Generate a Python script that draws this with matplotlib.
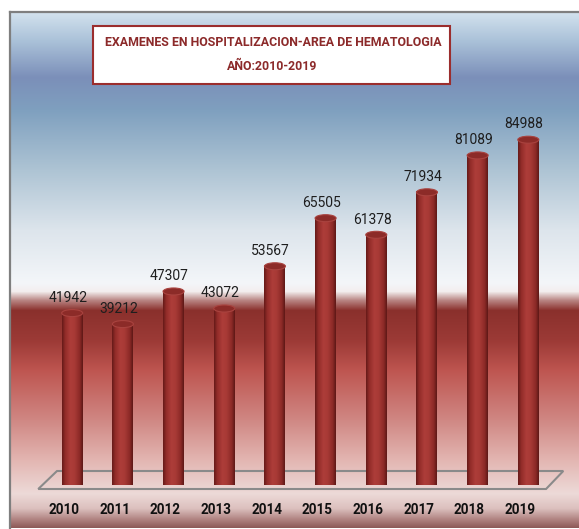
import numpy as np
import matplotlib
matplotlib.use("Agg")
import matplotlib.pyplot as plt
from matplotlib.patches import Ellipse, Rectangle, PathPatch
from matplotlib.path import Path
from matplotlib.colors import LinearSegmentedColormap, to_rgb

plt.rcParams['font.family'] = ['Roboto', 'DejaVu Sans']

# data
years = ["2010", "2011", "2012", "2013", "2014", "2015", "2016", "2017", "2018", "2019"]
examenes = [41942, 39212, 47307, 43072, 53567, 65505, 61378, 71934, 81089, 84988]
title_lines = ["EXAMENES EN HOSPITALIZACION-AREA DE HEMATOLOGIA", "AÑO:2010-2019"]

W, H = 579, 529
fig = plt.figure(figsize=(W / 100, H / 100), dpi=100)
fig.patch.set_facecolor("white")


def fit_width(txt, target_px):
    # resize a text until it is about target_px wide
    r = fig.canvas.get_renderer()
    wpx = txt.get_window_extent(r).width
    txt.set_fontsize(txt.get_fontsize() * target_px / wpx)


# background panel with vertical gradient (pixel rows from top of figure)
pan_top, pan_bot, pan_left = 12, 528, 10
bg = fig.add_axes([pan_left / W, (H - pan_bot) / H, (W - pan_left) / W, (pan_bot - pan_top) / H])
stops_y = [12, 40, 77, 110, 170, 230, 283, 291, 300, 310, 340, 370, 420, 460, 493, 508, 518, 528]
stops_c = ["#d3e2ee", "#abc2d9", "#7b8fb9", "#7fa0bf", "#aec4d4", "#dde5ec", "#f4f6f9",
           "#f3eeee", "#b88482", "#8a302c", "#9c3a36", "#be5550", "#d08884", "#e3b6b2",
           "#eddad8", "#dcc0be", "#b48886", "#8a5654"]
rows = np.arange(pan_top, pan_bot)
rgb = np.array([to_rgb(c) for c in stops_c])
grad = np.stack([np.interp(rows, stops_y, rgb[:, k]) for k in range(3)], axis=-1)[:, None, :]
bg.imshow(grad, aspect="auto", extent=[0, 1, 0, 1], interpolation="bilinear")
bg.set_xlim(0, 1)
bg.set_ylim(0, 1)
bg.set_xticks([])
bg.set_yticks([])
for s in ["right", "bottom"]:
    bg.spines[s].set_visible(False)
for s in ["top", "left"]:
    bg.spines[s].set_color("#7f7f7f")
    bg.spines[s].set_linewidth(1.6)

# main axes: value 0 at y=482 px, top at y=130 px
base_px, top_px = 482, 130
ax = fig.add_axes([0, (H - base_px) / H, 1, (base_px - top_px) / H])
ax.set_facecolor("none")
ax.axis("off")

ymax = 87400
units_per_px = ymax / (base_px - top_px)
x0_px, step_px = 72.2, 50.68
xlim = (-x0_px / step_px, (W - x0_px) / step_px)

x = np.arange(len(years))
w = 21 / step_px
eh = 7 * units_per_px

# floor (parallelogram below the cylinders)
fl = [(x[0] - 0.67, -7 * units_per_px), (x[0] - 0.3, 11 * units_per_px),
      (x[-1] + 0.69, 11 * units_per_px), (x[-1] + 0.35, -7 * units_per_px)]
ax.add_patch(plt.Polygon(fl, closed=True, facecolor="none", edgecolor="#8a8a8a",
                         lw=1.5, clip_on=False, zorder=1))

body_cmap = LinearSegmentedColormap.from_list(
    "cyl", [(0, "#661a18"), (0.15, "#922c29"), (0.4, "#ad3d39"), (0.6, "#a83a36"),
            (0.85, "#8c2a27"), (1, "#5e1816")])
shade = body_cmap(np.linspace(0, 1, 64))[None, :, :]

t = np.linspace(np.pi, 2 * np.pi, 40)
for xi, v in zip(x, examenes):
    im = ax.imshow(shade, extent=[xi - w / 2, xi + w / 2, -eh / 2, v], aspect="auto",
                   interpolation="bilinear", zorder=3, clip_on=False)
    verts = [(xi - w / 2, v), (xi - w / 2, 0)]
    verts += [(xi + w / 2 * np.cos(a), eh / 2 * np.sin(a)) for a in t]
    verts += [(xi + w / 2, v), (xi - w / 2, v)]
    clip = PathPatch(Path(verts), transform=ax.transData, facecolor="none", edgecolor="none")
    ax.add_patch(clip)
    im.set_clip_path(clip)
    ax.add_patch(Ellipse((xi, v), w, eh, facecolor="#8c2b28", edgecolor="#a9433f",
                         lw=0.8, zorder=4, clip_on=False))

ax.set_xlim(*xlim)
ax.set_ylim(0, ymax)

val_txt = []
for xi, v in zip(x, examenes):
    val_txt.append(ax.annotate(str(v), (xi, v), xytext=(-3, 11), textcoords="offset points",
                               ha="center", va="center", fontsize=10, color="#1e1e1e"))

yr_txt = []
for xi, yr in zip(x, years):
    yr_txt.append(ax.annotate(yr, (xi, 0), xytext=(-6, -20), textcoords="offset points",
                              ha="center", va="center", fontsize=10, fontweight="bold",
                              color="#111111", annotation_clip=False))

# title box
bx0, bx1, by0, by1 = 93, 450, 26, 84
fig.patches.append(Rectangle((bx0 / W, 1 - by1 / H), (bx1 - bx0) / W, (by1 - by0) / H,
                             transform=fig.transFigure, facecolor="white",
                             edgecolor="#9b2d2d", lw=1.5, zorder=5))
t1 = fig.text(273 / W, 1 - 43 / H, title_lines[0], ha="center", va="center",
              fontsize=13, fontweight="bold", color="#8c2a2a", zorder=6)
t2 = fig.text(272 / W, 1 - 67 / H, title_lines[1], ha="center", va="center",
              fontsize=13, fontweight="bold", color="#8c2a2a", zorder=6)

fit_width(t1, 338)
t2.set_fontsize(t1.get_fontsize())
fit_width(val_txt[0], 39)
for tx in val_txt[1:]:
    tx.set_fontsize(val_txt[0].get_fontsize())
fit_width(yr_txt[0], 31)
for tx in yr_txt[1:]:
    tx.set_fontsize(yr_txt[0].get_fontsize())

fig.savefig("out.png", dpi=100)
